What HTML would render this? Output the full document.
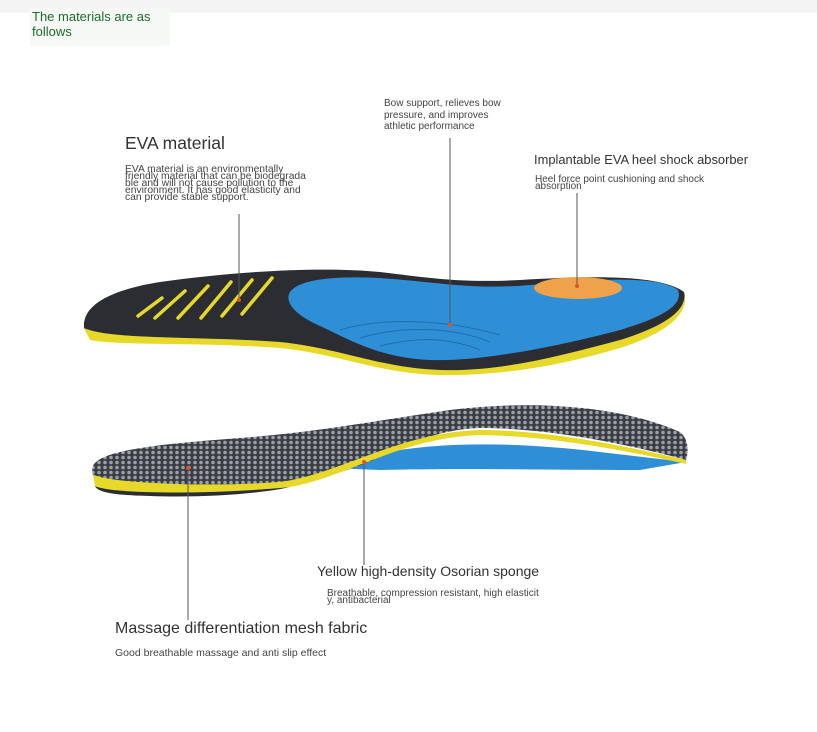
<!DOCTYPE html>
<html><head><meta charset="utf-8"><style>
html,body{margin:0;padding:0;background:#fff;}
body{width:817px;height:732px;position:relative;overflow:hidden;font-family:"Liberation Sans",sans-serif;}
.t{position:absolute;white-space:nowrap;color:#333;}
.s{font-size:10.3px;line-height:7px;color:#444;}
</style></head><body>
<div style="position:absolute;left:0;top:0;width:817px;height:13px;background:#f4f4f4"></div>
<div style="position:absolute;left:30px;top:8px;width:140px;height:38px;background:#f6f8f6"></div>
<div class="t" style="left:32px;top:9px;font-size:13px;line-height:15px;color:#1f6b2a">The materials are as<br>follows</div>

<svg width="817" height="732" style="position:absolute;left:0;top:0">
<defs>
<pattern id="mesh" width="6" height="5" patternUnits="userSpaceOnUse">
<rect width="6" height="5" fill="#3a3d44"/>
<circle cx="3" cy="2.5" r="1.8" fill="#9aa0a8"/>
</pattern>
</defs>
<!-- top insole -->
<path d="M84,328 C82,305 110,290 160,282 C230,272 320,266 380,272 C430,278 460,283 520,280 C590,276 660,274 684,292 C690,312 670,330 620,345 C560,362 500,376 440,374 C380,372 340,352 280,346 C200,340 120,345 90,338 Z" fill="#2b2d33"/>
<path d="M84,328 C110,340 200,336 280,342 C340,348 380,368 440,370 C500,372 560,356 620,340 C665,326 688,310 684,292 C690,312 670,332 620,348 C560,366 500,376 440,375 C380,374 340,354 280,348 C200,342 120,346 90,340 Z" fill="#e6d92a"/>
<path d="M290,292 C300,278 340,276 380,278 C440,282 470,290 530,285 C600,278 660,276 678,290 C684,306 660,318 620,330 C560,346 480,362 430,360 C380,358 350,340 320,326 C295,315 284,302 290,292 Z" fill="#2f8fd6"/>
<path d="M340,330 C380,318 440,318 500,335 M360,338 C400,326 450,326 490,342 M380,346 C420,336 450,338 480,350" stroke="#1f6fb0" fill="none" stroke-width="1"/>
<ellipse cx="578" cy="288" rx="44" ry="11" fill="#f0a24a"/>
<g stroke="#e6d92a" stroke-width="3.5" stroke-linecap="round">
<line x1="138" y1="316" x2="162" y2="298"/>
<line x1="155" y1="318" x2="185" y2="291"/>
<line x1="178" y1="318" x2="208" y2="286"/>
<line x1="201" y1="318" x2="231" y2="282"/>
<line x1="222" y1="316" x2="252" y2="280"/>
<line x1="242" y1="314" x2="272" y2="278"/>
</g>
<!-- bottom insole -->
<path d="M330,468 C400,440 500,440 600,452 C650,458 685,462 686,462 L640,470 C560,470 460,468 380,470 Z" fill="#2f8fd6"/>
<path d="M93,466 C100,450 160,444 240,438 C320,432 380,420 450,410 C530,400 620,405 680,432 C690,440 688,455 686,460 C650,450 560,428 480,428 C420,430 390,458 340,472 C280,486 200,490 110,484 C95,482 90,476 93,466 Z" fill="url(#mesh)"/>
<path d="M93,474 C100,482 200,488 280,482 C340,474 400,432 480,430 C560,430 650,452 686,460 L686,464 C650,456 560,436 480,435 C400,438 350,476 290,487 C210,495 110,494 95,486 Z" fill="#e6d92a"/>
<path d="M95,486 C110,494 210,495 290,487 C260,494 200,498 150,496 C110,495 98,492 95,486 Z" fill="#2b2d33"/>
<g stroke="#555" stroke-width="1">
<line x1="239" y1="214" x2="239" y2="300"/>
<line x1="450" y1="138" x2="450" y2="325"/>
<line x1="577" y1="193" x2="577" y2="286"/>
<line x1="188" y1="470" x2="188" y2="620"/>
<line x1="364" y1="462" x2="364" y2="565"/>
</g>
<g fill="#e0522a"><circle cx="239" cy="300" r="2"/><circle cx="450" cy="325" r="2"/><circle cx="577" cy="286" r="2"/><circle cx="188" cy="468" r="2"/><circle cx="364" cy="462" r="2"/></g>
</svg>

<div class="t" style="left:125px;top:133px;font-size:17.5px">EVA material</div>
<div class="t s" style="left:125px;top:166px">EVA material is an environmentally<br>friendly material that can be biodegrada<br>ble and will not cause pollution to the<br>environment. It has good elasticity and<br>can provide stable support.</div>
<div class="t" style="left:384px;top:98px;font-size:10px;line-height:11.5px;color:#444">Bow support, relieves bow<br>pressure, and improves<br>athletic performance</div>
<div class="t" style="left:534px;top:152px;font-size:12.9px">Implantable EVA heel shock absorber</div>
<div class="t s" style="left:535px;top:176px;font-size:10px">Heel force point cushioning and shock<br>absorption</div>
<div class="t" style="left:317px;top:563px;font-size:14px">Yellow high-density Osorian sponge</div>
<div class="t s" style="left:327px;top:590px;font-size:10px">Breathable, compression resistant, high elasticit<br>y, antibacterial</div>
<div class="t" style="left:115px;top:620px;font-size:16px">Massage differentiation mesh fabric</div>
<div class="t" style="left:115px;top:647px;font-size:10.5px;color:#444">Good breathable massage and anti slip effect</div>
</body></html>
